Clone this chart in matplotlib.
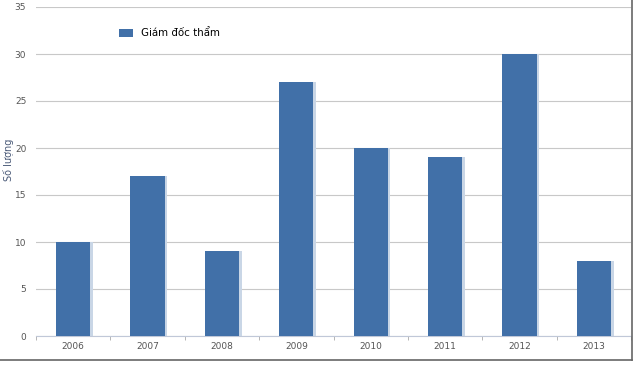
import matplotlib
matplotlib.use("Agg")
import matplotlib.pyplot as plt
from matplotlib.lines import Line2D
import numpy as np

years = ["2006", "2007", "2008", "2009", "2010", "2011", "2012", "2013"]
counts = [10, 17, 9, 27, 20, 19, 30, 8]
yticks = [0, 5, 10, 15, 20, 25, 30, 35]

plt.rcParams['font.family'] = ['DejaVu Sans']

fig = plt.figure(figsize=(6.4, 3.66), dpi=100)
ax = fig.add_axes([36/640, 1-336/366, (631-36)/640, (336-7)/366])

x = np.arange(len(years))
# shadow
ax.bar(x + 0.035, counts, width=0.46, color='#c9d6e6', zorder=2)
ax.bar(x, counts, width=0.46, color='#4170a8', zorder=3, label='Giám đốc thẩm')

ax.set_xlim(-0.5, len(years) - 0.5)
ax.set_ylim(0, 35)
ax.set_yticks(yticks)
ax.set_yticklabels([str(t) for t in yticks], fontsize=6.5, color='#555555')
ax.set_xticks(x)
ax.set_xticklabels(years, fontsize=6.5, color='#555555')
ax.tick_params(axis='y', length=0, pad=7)
ax.tick_params(axis='x', length=0, pad=4)
ax.set_xticks(np.arange(-0.5, len(years) + 0.5, 1), minor=True)
ax.tick_params(axis='x', which='minor', length=3, color='#aaaaaa')
ax.yaxis.grid(True, color='#c8c8c8', linewidth=0.8, zorder=0)
ax.set_axisbelow(True)
for s in ['top', 'right', 'left']:
    ax.spines[s].set_visible(False)
ax.spines['bottom'].set_color('#c0c8d8')

fig.text(8/640, 1-160/366, 'Số lượng', fontsize=7, color='#4a5a78',
         rotation=90, ha='center', va='center')

leg = ax.legend(loc='upper left', bbox_to_anchor=(0.124, 0.963), frameon=False,
                fontsize=7.4, handlelength=1.4, handleheight=0.9, handletextpad=0.7)

# outer frame lines
fig.add_artist(Line2D([632/640, 632/640], [1-360/366, 1], color='#666666', linewidth=1.2))
fig.add_artist(Line2D([0, 632/640], [1-360/366, 1-360/366], color='#666666', linewidth=1.2))

fig.savefig('out.png', dpi=100, facecolor='white')
